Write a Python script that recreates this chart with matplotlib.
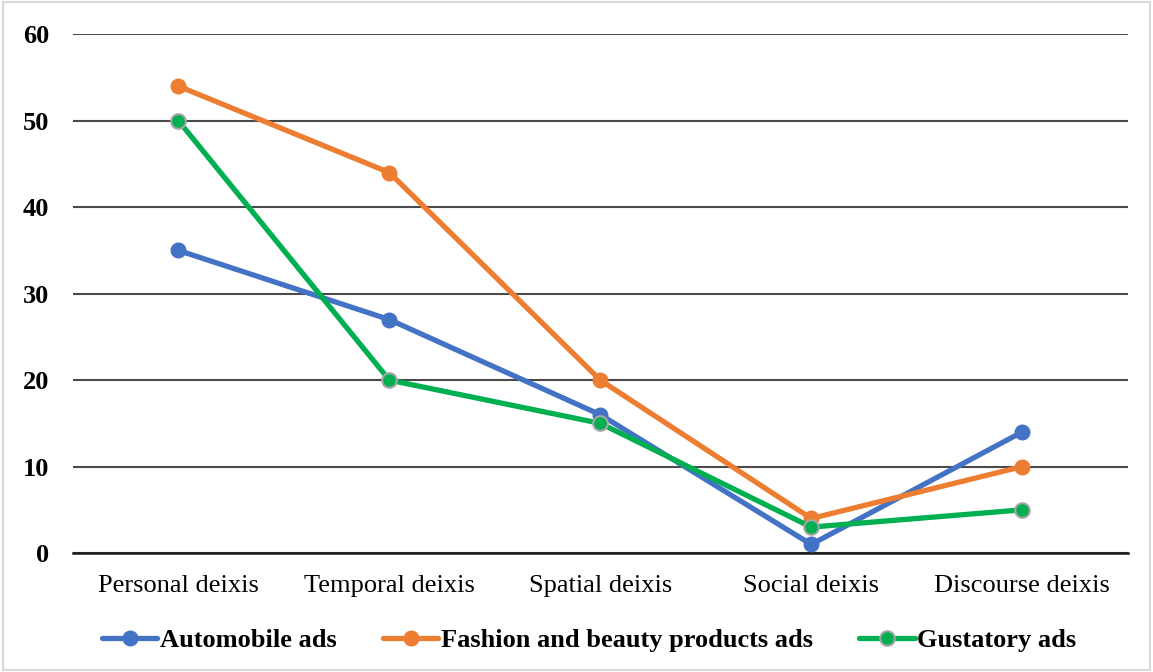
import matplotlib
matplotlib.use("Agg")
import matplotlib.pyplot as plt
from matplotlib.patches import Rectangle

categories = ["Personal deixis", "Temporal deixis", "Spatial deixis", "Social deixis", "Discourse deixis"]
automobile = [35, 27, 16, 1, 14]
fashion = [54, 44, 20, 4, 10]
gustatory = [50, 20, 15, 3, 5]
series_names = ["Automobile ads", "Fashion and beauty products ads", "Gustatory ads"]
yticks = [0, 10, 20, 30, 40, 50, 60]

plt.rcParams['font.family'] = ['Liberation Serif', 'DejaVu Serif']

fig = plt.figure(figsize=(11.53, 6.72), dpi=100)
fig.patches.append(Rectangle((0.003, 0.003), 0.994, 0.994, transform=fig.transFigure,
                             fill=False, edgecolor='#d9d9d9', linewidth=1.5))
ax = fig.add_axes([0.0633, 0.177, 0.9147, 0.772])

x = list(range(len(categories)))
ax.plot(x, automobile, color='#4472C4', lw=3.8, marker='o', ms=10.5, mfc='#4472C4', mec='#4472C4',
        label=series_names[0], solid_capstyle='round', zorder=3)
ax.plot(x, fashion, color='#ED7D31', lw=3.8, marker='o', ms=10.5, mfc='#ED7D31', mec='#ED7D31',
        label=series_names[1], solid_capstyle='round', zorder=3)
ax.plot(x, gustatory, color='#00B050', lw=3.8, marker='o', ms=10.5, mfc='#00B050', mec='#A5A5A5',
        mew=1.5, label=series_names[2], solid_capstyle='round', zorder=3)

ax.set_xlim(-0.5, 4.5)
ax.set_ylim(0, 60)
ax.set_yticks(yticks)
ax.set_yticklabels([str(v) for v in yticks], fontsize=19, fontweight='bold')
ax.set_xticks(x)
ax.set_xticklabels(categories, fontsize=19)
ax.tick_params(axis='both', length=0)
ax.tick_params(axis='y', pad=17)
ax.tick_params(axis='x', pad=16)
ax.grid(axis='y', color='#4a4a4a', linewidth=1.5)
ax.set_axisbelow(True)
for s in ['top', 'right', 'left']:
    ax.spines[s].set_visible(False)
ax.spines['bottom'].set_color('#1a1a1a')
ax.spines['bottom'].set_linewidth(1.8)

leg = fig.legend(loc='center', bbox_to_anchor=(0.511, 0.047), ncol=3, frameon=False,
                 prop={'size': 19, 'weight': 'bold'}, handlelength=2.1, handletextpad=0.1,
                 columnspacing=1.75)

fig.savefig("out.png", dpi=100)
